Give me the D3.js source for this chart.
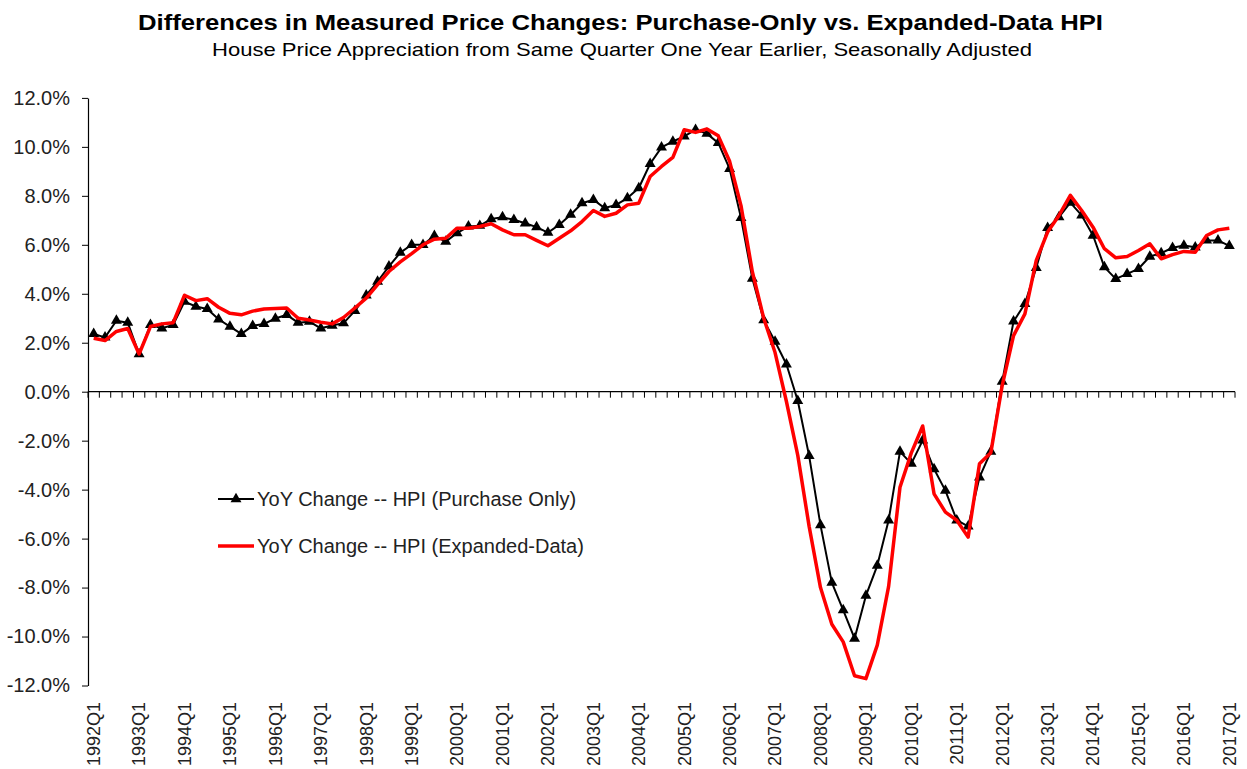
<!DOCTYPE html>
<meta charset="utf-8">
<style type="text/css">
body { margin: 0; background: #fff; }
svg text { font-family: "Liberation Sans", Arial, sans-serif; fill: #000; }
.g-hed { font-weight: bold; font-size: 22px; }
.g-sub { font-size: 19px; }
.axis text { font-size: 20px; fill: #222; }
.xlab { font-size: 18px; fill: #222; }
.legend text { font-size: 20px; fill: #222; }
</style>
<body>
<div class="g-chart"></div>
<script src="https://cdnjs.cloudflare.com/ajax/libs/d3/7.8.5/d3.min.js"></script>
<script type="text/javascript">

// quarters 1992Q1 .. 2017Q1
var quarters = d3.range(101).map(function(i) { return (1992 + Math.floor(i / 4)) + "Q" + (i % 4 + 1); });

// YoY change, purchase-only HPI (%)
var purchaseOnly = [
  2.36, 2.22, 2.90, 2.82, 1.54, 2.73, 2.59, 2.73, 3.68, 3.48,
  3.38, 2.96, 2.66, 2.36, 2.69, 2.77, 2.99, 3.14, 2.82, 2.86,
  2.59, 2.70, 2.80, 3.30, 3.94, 4.50, 5.12, 5.68, 6.00, 6.00,
  6.37, 6.13, 6.48, 6.75, 6.78, 7.05, 7.13, 7.02, 6.88, 6.72,
  6.50, 6.82, 7.23, 7.70, 7.84, 7.50, 7.63, 7.91, 8.32, 9.31,
  9.98, 10.22, 10.43, 10.70, 10.54, 10.16, 9.10, 7.10, 4.62, 2.92,
  2.05, 1.12, -0.37, -2.62, -5.45, -7.80, -8.92, -10.08, -8.33, -7.10,
  -5.25, -2.45, -2.94, -1.99, -3.16, -4.04, -5.25, -5.50, -3.50, -2.45,
  0.41, 2.87, 3.59, 5.06, 6.69, 7.13, 7.72, 7.20, 6.38, 5.09,
  4.61, 4.81, 5.02, 5.52, 5.66, 5.88, 5.97, 5.90, 6.18, 6.18,
  5.96
];

// YoY change, expanded-data HPI (%)
var expandedData = [
  2.18, 2.09, 2.46, 2.58, 1.54, 2.66, 2.77, 2.82, 3.94, 3.72,
  3.80, 3.45, 3.20, 3.14, 3.29, 3.38, 3.40, 3.42, 3.00, 2.93,
  2.84, 2.77, 3.03, 3.42, 3.82, 4.37, 4.91, 5.30, 5.64, 6.00,
  6.23, 6.27, 6.68, 6.68, 6.75, 6.86, 6.61, 6.41, 6.41, 6.18,
  5.96, 6.27, 6.57, 6.95, 7.40, 7.16, 7.29, 7.63, 7.70, 8.79,
  9.20, 9.57, 10.70, 10.59, 10.73, 10.45, 9.41, 7.60, 4.90, 3.00,
  1.60, -0.40, -2.60, -5.50, -8.00, -9.50, -10.22, -11.60, -11.72, -10.35,
  -7.95, -3.90, -2.50, -1.40, -4.17, -4.92, -5.25, -5.94, -2.94, -2.49,
  0.25, 2.29, 3.18, 5.36, 6.52, 7.20, 8.02, 7.40, 6.72, 5.84,
  5.47, 5.52, 5.77, 6.04, 5.43, 5.60, 5.73, 5.70, 6.38, 6.61,
  6.68
];

var yTicks = [-12, -10, -8, -6, -4, -2, 0, 2, 4, 6, 8, 10, 12];
var xLabels = quarters.filter(function(q) { return /Q1$/.test(q); });

var seriesNames = ["YoY Change -- HPI (Purchase Only)", "YoY Change -- HPI (Expanded-Data)"];

var width = 1247, height = 769;

var svg = d3.select(".g-chart").append("svg")
  .attr("width", width)
  .attr("height", height);

// scales
var x = d3.scaleBand().domain(quarters).range([88, 1235]).padding(0);
var y = d3.scaleLinear().domain([-12, 12]).range([685.5, 97.9]);
var cx = function(q) { return x(q) + x.bandwidth() / 2; };

// title
svg.append("text").attr("class", "g-hed")
  .attr("x", 620.5).attr("y", 30)
  .attr("text-anchor", "middle")
  .attr("textLength", 965).attr("lengthAdjust", "spacingAndGlyphs")
  .text("Differences in Measured Price Changes: Purchase-Only vs. Expanded-Data HPI");

svg.append("text").attr("class", "g-sub")
  .attr("x", 622).attr("y", 56)
  .attr("text-anchor", "middle")
  .attr("textLength", 820).attr("lengthAdjust", "spacingAndGlyphs")
  .text("House Price Appreciation from Same Quarter One Year Earlier, Seasonally Adjusted");

// y axis
var yAxis = d3.axisLeft(y)
  .tickValues(yTicks)
  .tickSize(6)
  .tickSizeOuter(0)
  .tickPadding(12)
  .tickFormat(function(d) { return d.toFixed(1) + "%"; });

svg.append("g").attr("class", "axis")
  .attr("transform", "translate(88,0)")
  .call(yAxis)
  .call(function(g) {
    g.select(".domain").attr("stroke", "#000").attr("stroke-width", 1.2);
    g.selectAll(".tick line").attr("stroke", "#000");
  });

// x axis along zero line, tick marks on category boundaries
var xg = svg.append("g").attr("class", "xaxis");
xg.append("line")
  .attr("x1", x.range()[0]).attr("x2", x.range()[1])
  .attr("y1", y(0)).attr("y2", y(0))
  .attr("stroke", "#000").attr("stroke-width", 1.2);

xg.selectAll("line.tk")
  .data(quarters.concat(["end"]))
  .enter().append("line")
  .attr("class", "tk")
  .attr("x1", function(d) { return d === "end" ? x.range()[1] : x(d); })
  .attr("x2", function(d) { return d === "end" ? x.range()[1] : x(d); })
  .attr("y1", y(0)).attr("y2", y(0) + 6)
  .attr("stroke", "#000").attr("stroke-width", 1);

xg.selectAll("text.xlab")
  .data(xLabels)
  .enter().append("text")
  .attr("class", "xlab")
  .attr("text-anchor", "end")
  .attr("transform", function(d) { return "translate(" + cx(d) + ",702) rotate(-90)"; })
  .attr("dy", "0.35em")
  .text(function(d) { return d; });

// lines
var line = d3.line()
  .x(function(d, i) { return cx(quarters[i]); })
  .y(function(d) { return y(d); });

var tri = d3.symbol().type(d3.symbolTriangle).size(52);

svg.append("path")
  .datum(purchaseOnly)
  .attr("d", line)
  .attr("fill", "none")
  .attr("stroke", "#000")
  .attr("stroke-width", 2)
  .attr("stroke-linejoin", "round");

svg.append("g").selectAll("path")
  .data(purchaseOnly)
  .enter().append("path")
  .attr("d", tri)
  .attr("transform", function(d, i) { return "translate(" + cx(quarters[i]) + "," + y(d) + ")"; })
  .attr("fill", "#000");

svg.append("path")
  .datum(expandedData)
  .attr("d", line)
  .attr("fill", "none")
  .attr("stroke", "#ff0000")
  .attr("stroke-width", 3.5)
  .attr("stroke-linejoin", "round");

// legend
var legend = svg.append("g").attr("class", "legend");
var ly = [499, 546];

legend.append("line")
  .attr("x1", 218).attr("x2", 254).attr("y1", ly[0]).attr("y2", ly[0])
  .attr("stroke", "#000").attr("stroke-width", 2);
legend.append("path")
  .attr("d", tri)
  .attr("transform", "translate(236," + ly[0] + ")")
  .attr("fill", "#000");
legend.append("line")
  .attr("x1", 218).attr("x2", 254).attr("y1", ly[1]).attr("y2", ly[1])
  .attr("stroke", "#ff0000").attr("stroke-width", 3.5);

legend.selectAll("text")
  .data(seriesNames)
  .enter().append("text")
  .attr("x", 257)
  .attr("y", function(d, i) { return ly[i]; })
  .attr("dy", "0.36em")
  .text(function(d) { return d; });

</script>
</body>
